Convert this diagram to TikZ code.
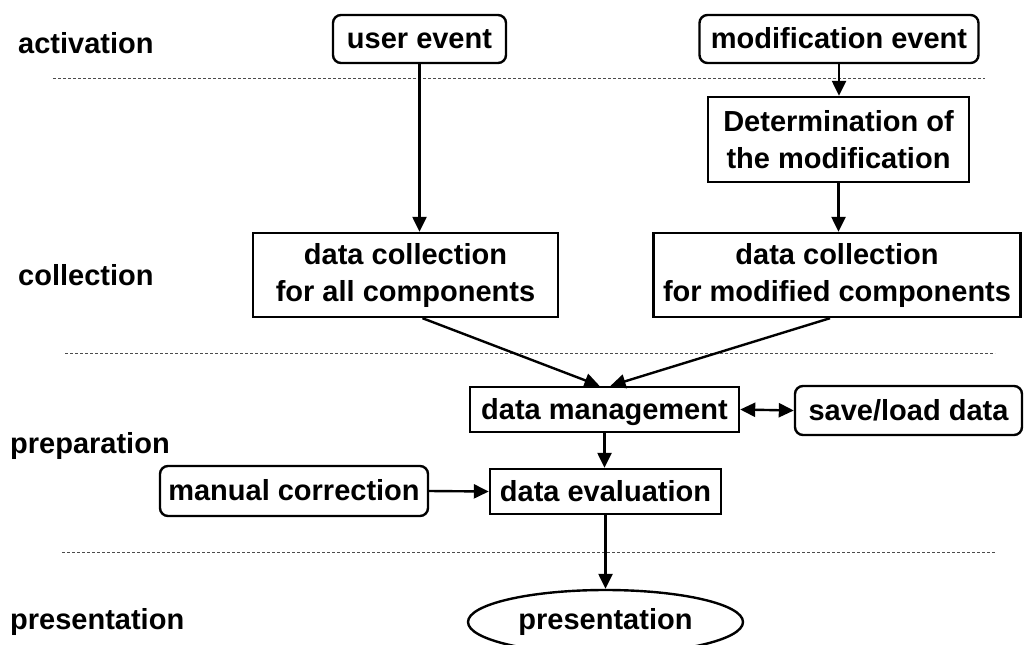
\documentclass[tikz,border=0pt]{standalone}
\usepackage{fontspec}
\setmainfont{Liberation Sans}
\usetikzlibrary{arrows.meta,shapes.geometric,calc}
\begin{document}
\begin{tikzpicture}[x=1pt,y=-1pt,
  every node/.style={font=\fontsize{29}{37}\selectfont\bfseries, inner sep=0pt},
  lbl/.style={anchor=west},
  box/.style={draw, line width=2.4pt, align=center},
  sbox/.style={box, text height=22pt, text depth=3pt},
  rbox/.style={sbox, rounded corners=8pt},
  arr/.style={line width=2.4pt, -{Triangle[length=15pt,width=14pt]}},
  darr/.style={line width=2.4pt, {Triangle[length=15pt,width=14pt]}-{Triangle[length=15pt,width=14pt]}},
  sep/.style={draw=black!70, line width=1pt, dash pattern=on 3pt off 2pt}]
\clip (0,0) rectangle (1028,645);
\fill[white] (0,0) rectangle (1028,645);

% phase labels
\node[lbl] (lact) at (18,43) {activation};
\node[lbl] (lcol) at (18,275) {collection};
\node[lbl] (lprep) at (10,446) {preparation};
\node[lbl] (lpres) at (10,622) {presentation};

% separators
\draw[sep] (53,78) -- (985,78);
\draw[sep] (65,353) -- (995,353);
\draw[sep] (62,552) -- (995,552);

% nodes
\node[rbox, minimum width=173pt, minimum height=48pt] (ue) at (419.5,39) {user event};
\node[rbox, minimum width=279pt, minimum height=48pt] (me) at (839,39) {modification event};
\node[box, minimum width=261pt, minimum height=85pt] (det) at (838.5,139.5) {Determination of\\the modification};
\node[box, minimum width=305pt, minimum height=84pt] (dca) at (405.5,275) {data collection\\for all components};
\node[box, minimum width=367pt, minimum height=84pt] (dcm) at (837,275) {data collection\\for modified components};
\node[sbox, minimum width=269pt, minimum height=45pt] (dm) at (604.5,409.5) {data management};
\node[rbox, minimum width=227pt, minimum height=49pt] (sl) at (908.5,410.5) {save/load data};
\node[sbox, minimum width=231pt, minimum height=45pt] (de) at (605.5,491.5) {data evaluation};
\node[rbox, minimum width=268pt, minimum height=50pt] (mc) at (294,491) {manual correction};
\node[draw, line width=2.4pt, ellipse, minimum width=275pt, minimum height=64pt] (pr) at (605.5,622) {presentation};

% connectors
\draw[arr] (ue.south) -- (ue.south |- dca.north);
\draw[arr] (me.south) -- (me.south |- det.north);
\draw[arr] (det.south) -- (det.south |- dcm.north);
\draw[arr] ($(dca.south)+(17,0)$) -- ($(dm.north)+(-5,0)$);
\draw[arr] ($(dcm.south)+(-7,0)$) -- ($(dm.north)+(6,0)$);
\draw[darr] (dm.east) -- (sl.west);
\draw[arr] (dm.south) -- (dm.south |- de.north);
\draw[arr] (mc.east) -- (de.west);
\draw[arr] (de.south) -- (pr.north);
\end{tikzpicture}
\end{document}
